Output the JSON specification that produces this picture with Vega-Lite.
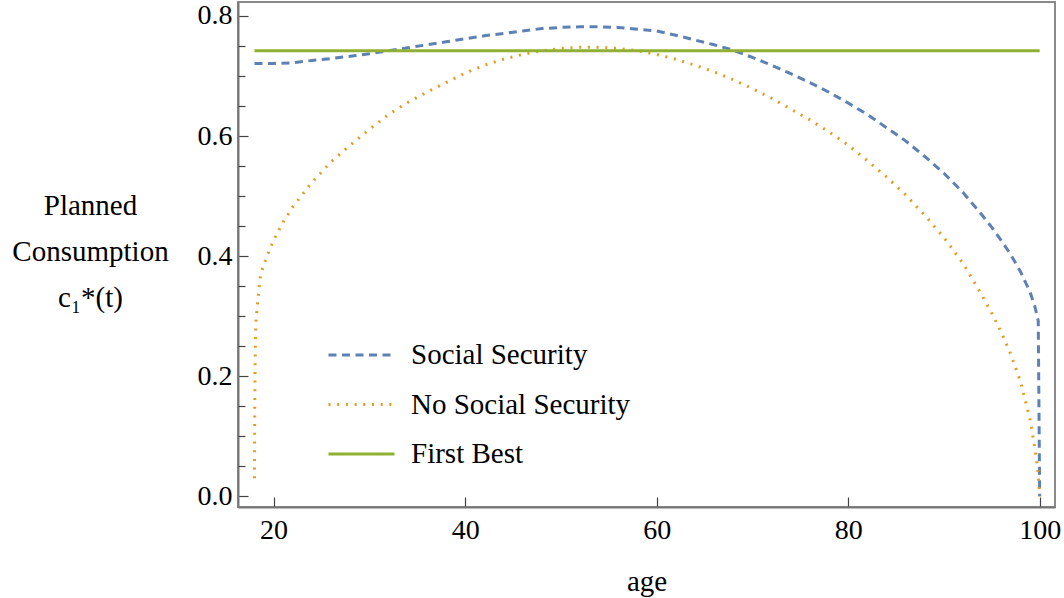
{
  "$schema": "https://vega.github.io/schema/vega-lite/v6.json",
  "width": 817,
  "height": 505,
  "autosize": {"type": "none"},
  "padding": {"left": 238, "top": 2, "right": 9, "bottom": 91},
  "background": "white",
  "config": {
    "font": "Liberation Serif, DejaVu Serif, serif",
    "axis": {"labelFont": "Liberation Serif, DejaVu Serif, serif", "titleFont": "Liberation Serif, DejaVu Serif, serif"},
    "legend": {"labelFont": "Liberation Serif, DejaVu Serif, serif"},
    "view": {"stroke": "#8a8a8a", "strokeWidth": 2}
  },
  "datasets": {
    "paths": [
      {"series": "Social Security", "age": 18, "c": 0.721},
      {"series": "Social Security", "age": 20, "c": 0.721},
      {"series": "Social Security", "age": 22, "c": 0.722},
      {"series": "Social Security", "age": 24, "c": 0.726},
      {"series": "Social Security", "age": 26, "c": 0.729},
      {"series": "Social Security", "age": 28, "c": 0.733},
      {"series": "Social Security", "age": 30, "c": 0.737},
      {"series": "Social Security", "age": 32, "c": 0.742},
      {"series": "Social Security", "age": 34, "c": 0.747},
      {"series": "Social Security", "age": 36, "c": 0.752},
      {"series": "Social Security", "age": 38, "c": 0.757},
      {"series": "Social Security", "age": 40, "c": 0.762},
      {"series": "Social Security", "age": 42, "c": 0.767},
      {"series": "Social Security", "age": 44, "c": 0.771},
      {"series": "Social Security", "age": 46, "c": 0.775},
      {"series": "Social Security", "age": 48, "c": 0.779},
      {"series": "Social Security", "age": 50, "c": 0.781},
      {"series": "Social Security", "age": 52, "c": 0.782},
      {"series": "Social Security", "age": 54, "c": 0.782},
      {"series": "Social Security", "age": 56, "c": 0.781},
      {"series": "Social Security", "age": 58, "c": 0.778},
      {"series": "Social Security", "age": 60, "c": 0.775},
      {"series": "Social Security", "age": 62, "c": 0.768},
      {"series": "Social Security", "age": 64, "c": 0.760},
      {"series": "Social Security", "age": 66, "c": 0.752},
      {"series": "Social Security", "age": 68, "c": 0.743},
      {"series": "Social Security", "age": 70, "c": 0.731},
      {"series": "Social Security", "age": 72, "c": 0.718},
      {"series": "Social Security", "age": 74, "c": 0.704},
      {"series": "Social Security", "age": 76, "c": 0.689},
      {"series": "Social Security", "age": 78, "c": 0.673},
      {"series": "Social Security", "age": 80, "c": 0.655},
      {"series": "Social Security", "age": 82, "c": 0.636},
      {"series": "Social Security", "age": 84, "c": 0.614},
      {"series": "Social Security", "age": 86, "c": 0.592},
      {"series": "Social Security", "age": 88, "c": 0.566},
      {"series": "Social Security", "age": 90, "c": 0.538},
      {"series": "Social Security", "age": 92, "c": 0.506},
      {"series": "Social Security", "age": 94, "c": 0.468},
      {"series": "Social Security", "age": 95, "c": 0.448},
      {"series": "Social Security", "age": 96, "c": 0.426},
      {"series": "Social Security", "age": 97, "c": 0.402},
      {"series": "Social Security", "age": 98, "c": 0.374},
      {"series": "Social Security", "age": 99, "c": 0.340},
      {"series": "Social Security", "age": 99.5, "c": 0.316},
      {"series": "Social Security", "age": 99.85, "c": 0.292},
      {"series": "Social Security", "age": 100, "c": 0.0},
      {"series": "No Social Security", "age": 18, "c": 0.03},
      {"series": "No Social Security", "age": 18.03, "c": 0.15},
      {"series": "No Social Security", "age": 18.08, "c": 0.24},
      {"series": "No Social Security", "age": 18.15, "c": 0.29},
      {"series": "No Social Security", "age": 18.37, "c": 0.33},
      {"series": "No Social Security", "age": 18.64, "c": 0.37},
      {"series": "No Social Security", "age": 19.3, "c": 0.40},
      {"series": "No Social Security", "age": 20, "c": 0.427},
      {"series": "No Social Security", "age": 21, "c": 0.457},
      {"series": "No Social Security", "age": 22, "c": 0.482},
      {"series": "No Social Security", "age": 24, "c": 0.523},
      {"series": "No Social Security", "age": 26, "c": 0.557},
      {"series": "No Social Security", "age": 28, "c": 0.585},
      {"series": "No Social Security", "age": 30, "c": 0.611},
      {"series": "No Social Security", "age": 32, "c": 0.636},
      {"series": "No Social Security", "age": 34, "c": 0.656},
      {"series": "No Social Security", "age": 36, "c": 0.673},
      {"series": "No Social Security", "age": 38, "c": 0.689},
      {"series": "No Social Security", "age": 40, "c": 0.705},
      {"series": "No Social Security", "age": 42, "c": 0.718},
      {"series": "No Social Security", "age": 44, "c": 0.728},
      {"series": "No Social Security", "age": 46, "c": 0.736},
      {"series": "No Social Security", "age": 48, "c": 0.742},
      {"series": "No Social Security", "age": 50, "c": 0.746},
      {"series": "No Social Security", "age": 52, "c": 0.748},
      {"series": "No Social Security", "age": 54, "c": 0.748},
      {"series": "No Social Security", "age": 56, "c": 0.746},
      {"series": "No Social Security", "age": 58, "c": 0.742},
      {"series": "No Social Security", "age": 60, "c": 0.736},
      {"series": "No Social Security", "age": 62, "c": 0.728},
      {"series": "No Social Security", "age": 64, "c": 0.718},
      {"series": "No Social Security", "age": 66, "c": 0.707},
      {"series": "No Social Security", "age": 68, "c": 0.694},
      {"series": "No Social Security", "age": 70, "c": 0.679},
      {"series": "No Social Security", "age": 72, "c": 0.663},
      {"series": "No Social Security", "age": 74, "c": 0.645},
      {"series": "No Social Security", "age": 76, "c": 0.627},
      {"series": "No Social Security", "age": 78, "c": 0.607},
      {"series": "No Social Security", "age": 80, "c": 0.585},
      {"series": "No Social Security", "age": 82, "c": 0.559},
      {"series": "No Social Security", "age": 84, "c": 0.532},
      {"series": "No Social Security", "age": 86, "c": 0.502},
      {"series": "No Social Security", "age": 88, "c": 0.468},
      {"series": "No Social Security", "age": 90, "c": 0.431},
      {"series": "No Social Security", "age": 92, "c": 0.388},
      {"series": "No Social Security", "age": 94, "c": 0.334},
      {"series": "No Social Security", "age": 95, "c": 0.305},
      {"series": "No Social Security", "age": 96, "c": 0.273},
      {"series": "No Social Security", "age": 97, "c": 0.236},
      {"series": "No Social Security", "age": 98, "c": 0.191},
      {"series": "No Social Security", "age": 99, "c": 0.128},
      {"series": "No Social Security", "age": 99.5, "c": 0.08},
      {"series": "No Social Security", "age": 99.8, "c": 0.045},
      {"series": "No Social Security", "age": 100, "c": 0.0},
      {"series": "First Best", "age": 18, "c": 0.742},
      {"series": "First Best", "age": 100, "c": 0.742}
    ]
  },
  "data": {"name": "paths"},
  "encoding": {
    "x": {
      "field": "age",
      "type": "quantitative",
      "scale": {"domain": [16.28, 101.6], "nice": false, "zero": false},
      "axis": {
        "values": [20, 40, 60, 80, 100],
        "tickSize": -10,
        "tickColor": "#444444",
        "tickWidth": 1.2,
        "domainColor": "#777777",
        "domainWidth": 2,
        "grid": false,
        "labelPadding": 19,
        "labelFontSize": 28,
        "labelColor": "black",
        "labelFlush": false,
        "title": "age",
        "titleFontSize": 29,
        "titleFontWeight": "normal",
        "titleColor": "black",
        "titleY": 83,
        "titleBaseline": "alphabetic"
      }
    },
    "y": {
      "field": "c",
      "type": "quantitative",
      "scale": {"domain": [-0.0178, 0.8233], "nice": false, "zero": false}
    },
    "color": {
      "field": "series",
      "type": "nominal",
      "scale": {
        "domain": ["Social Security", "No Social Security", "First Best"],
        "range": ["#5E81B5", "#E19C24", "#8FB032"]
      },
      "legend": {
        "orient": "none",
        "legendX": 89,
        "legendY": 338,
        "title": null,
        "padding": 0,
        "symbolType": "stroke",
        "symbolSize": 4356,
        "symbolStrokeWidth": 3,
        "labelFontSize": 29,
        "labelColor": "black",
        "labelOffset": 15,
        "labelLimit": 0,
        "clipHeight": 30,
        "rowPadding": 19.5
      }
    },
    "strokeDash": {
      "field": "series",
      "type": "nominal",
      "scale": {
        "domain": ["Social Security", "No Social Security", "First Best"],
        "range": [[8, 5.5], [2, 6.7], [1, 0]]
      },
      "legend": {
        "orient": "none",
        "legendX": 89,
        "legendY": 338,
        "title": null,
        "padding": 0,
        "symbolType": "stroke",
        "symbolSize": 4356,
        "symbolStrokeWidth": 3,
        "labelFontSize": 29,
        "labelColor": "black",
        "labelOffset": 15,
        "labelLimit": 0,
        "clipHeight": 30,
        "rowPadding": 19.5
      }
    }
  },
  "layer": [
    {
      "transform": [{"filter": "datum.series !== 'First Best'"}],
      "mark": {"type": "line", "strokeWidth": 3, "clip": true},
      "encoding": {
        "y": {
          "field": "c",
          "type": "quantitative",
          "axis": {
            "orient": "left",
            "values": [0, 0.2, 0.4, 0.6, 0.8],
            "format": ".1f",
            "tickSize": -10,
            "tickColor": "#444444",
            "tickWidth": 1.2,
            "domainColor": "#777777",
            "domainWidth": 2,
            "grid": false,
            "labelPadding": 16,
            "labelFontSize": 28,
            "labelColor": "black",
            "labelFlush": false,
            "title": ["Planned", "Consumption", "c₁*(t)"],
            "titleAngle": 0,
            "titleFontSize": 29,
            "titleFontWeight": "normal",
            "titleColor": "black",
            "titleAlign": "center",
            "titleBaseline": "middle",
            "titleLineHeight": 46,
            "titleX": -148,
            "titleY": 203
          }
        }
      }
    },
    {
      "transform": [{"filter": "datum.series === 'First Best'"}],
      "mark": {"type": "line", "strokeWidth": 3, "clip": true},
      "encoding": {
        "y": {
          "field": "c",
          "type": "quantitative",
          "axis": {
            "orient": "left",
            "values": [0.05, 0.1, 0.15, 0.25, 0.3, 0.35, 0.45, 0.5, 0.55, 0.65, 0.7, 0.75],
            "tickSize": -7,
            "tickColor": "#444444",
            "tickWidth": 1.2,
            "domain": false,
            "labels": false,
            "grid": false,
            "title": null
          }
        }
      }
    }
  ],
  "resolve": {"axis": {"y": "independent"}}
}
